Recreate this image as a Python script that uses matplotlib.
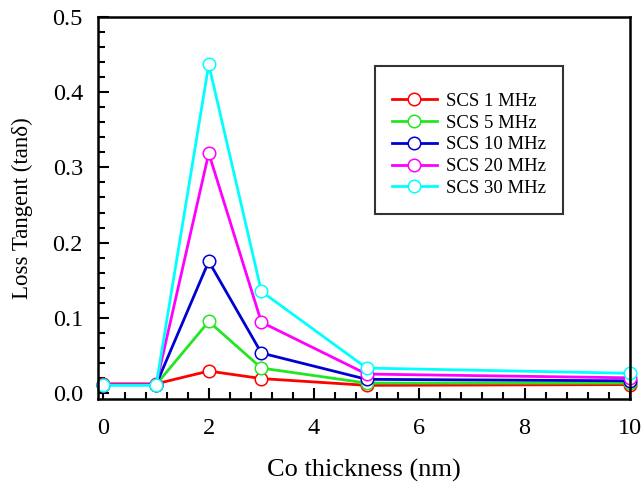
import numpy as np
import matplotlib
matplotlib.use('Agg')
import matplotlib.pyplot as plt
from matplotlib.ticker import MultipleLocator

# data
thickness = [0, 1, 2, 3, 5, 10]
labels = ['SCS 1 MHz', 'SCS 5 MHz', 'SCS 10 MHz', 'SCS 20 MHz', 'SCS 30 MHz']
scs_1 = [0.012, 0.012, 0.029, 0.019, 0.010, 0.011]
scs_5 = [0.011, 0.011, 0.095, 0.033, 0.013, 0.013]
scs_10 = [0.011, 0.011, 0.175, 0.053, 0.018, 0.016]
scs_20 = [0.011, 0.011, 0.319, 0.094, 0.025, 0.020]
scs_30 = [0.010, 0.010, 0.437, 0.135, 0.033, 0.026]
colors = ['#ff0000', '#22e622', '#0000d0', '#ff00ff', '#00ffff']

plt.rcParams['font.family'] = ['Liberation Serif', 'DejaVu Serif']

fig = plt.figure(figsize=(6.42, 4.90), dpi=100)
ax = fig.add_axes([0.153, 0.186, 0.828, 0.779])

for vals, lab, c in zip([scs_1, scs_5, scs_10, scs_20, scs_30], labels, colors):
    ax.plot(thickness, vals, '-o', color=c, lw=2.0, ms=9, mfc='white',
            mec=c, mew=1.1, label=lab, clip_on=False)

ax.set_xlim(-0.1, 10)
ax.set_ylim(-0.008, 0.5)
ax.xaxis.set_major_locator(MultipleLocator(2))
ax.xaxis.set_minor_locator(MultipleLocator(0.4))
ax.yaxis.set_major_locator(MultipleLocator(0.1))
ax.yaxis.set_minor_locator(MultipleLocator(0.02))
ax.yaxis.set_major_formatter(matplotlib.ticker.FormatStrFormatter('%.1f'))

ax.tick_params(which='both', direction='in', width=1.5, labelsize=17.5,
               top=False, right=False)
ax.tick_params(which='major', length=8)
ax.tick_params(which='minor', length=5)
ax.tick_params(axis='x', which='major', pad=14)
ax.tick_params(axis='y', which='major', pad=11)
for s in ax.spines.values():
    s.set_linewidth(1.8)

ax.set_xlabel('Co thickness (nm)', fontsize=19, labelpad=14)
ax.set_ylabel('Loss Tangent (tan\u03b4)', fontsize=16.5, labelpad=14)

leg = ax.legend(loc='upper left', bbox_to_anchor=(0.52, 0.872), fontsize=13.5,
                frameon=True, fancybox=False, edgecolor='black',
                handlelength=2.4, borderpad=0.9, labelspacing=0.25,
                handletextpad=0.5, borderaxespad=0,
                title=' ', title_fontsize=5)
leg.get_frame().set_linewidth(1.5)

fig.savefig('out.png', dpi=100)
